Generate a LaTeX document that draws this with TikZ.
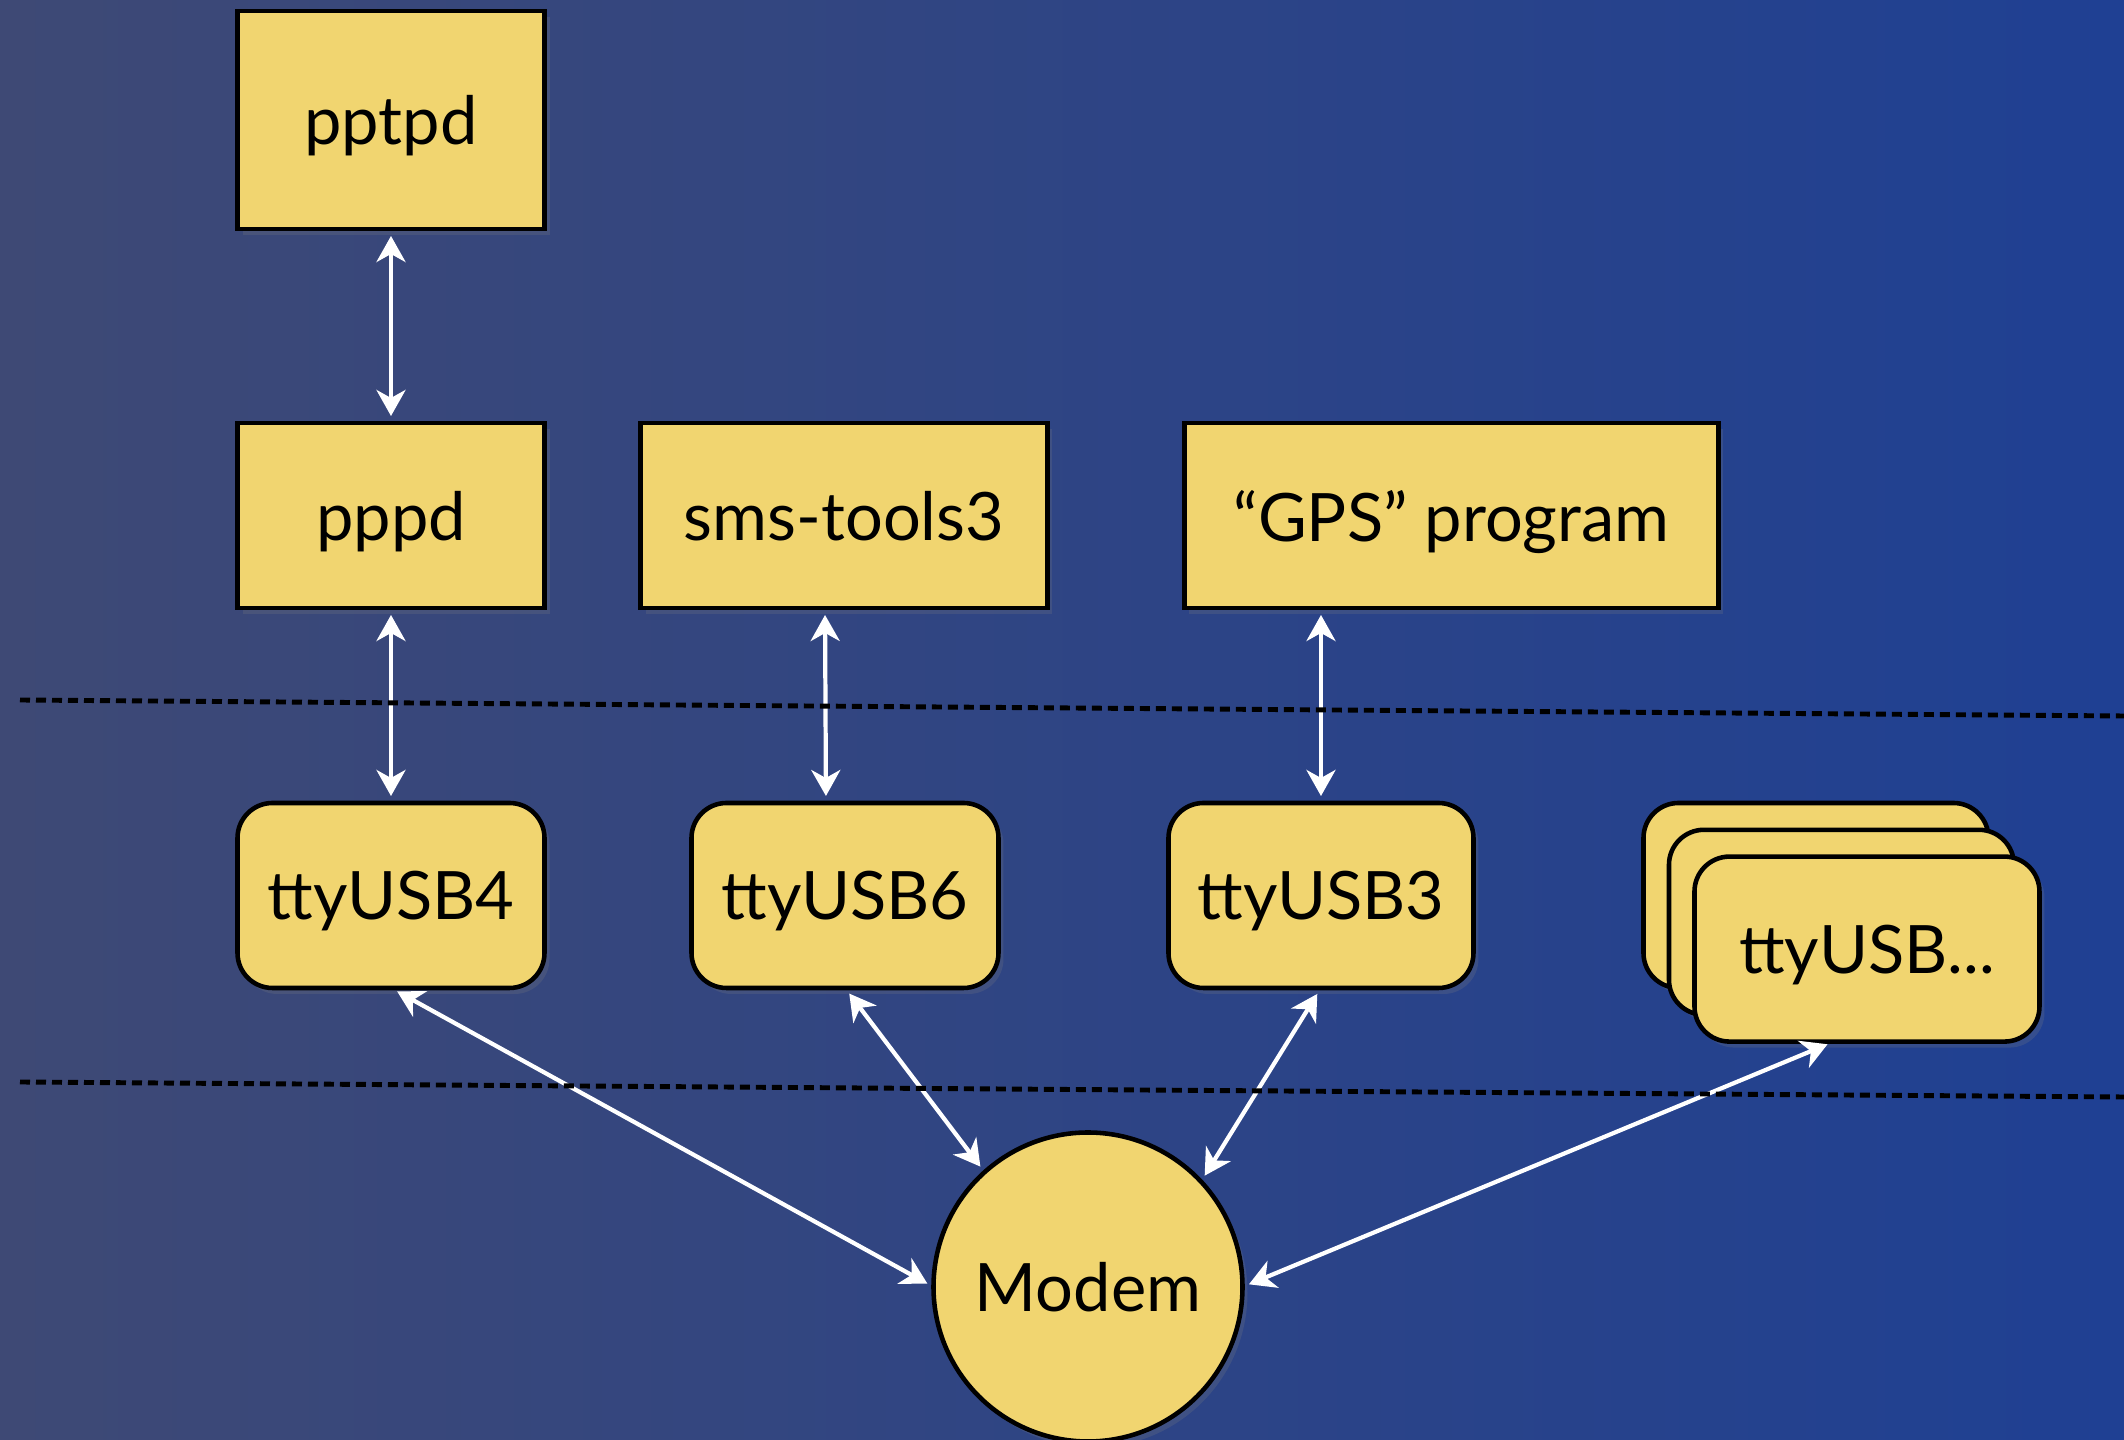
\documentclass[tikz,border=0pt]{standalone}
\usepackage{fontspec}
\setmainfont{Lato}
\usepackage{tikz}
\usetikzlibrary{shapes.geometric, arrows.meta, positioning, shadows}
\definecolor{paper}{RGB}{241,213,112}
\definecolor{bgleft}{RGB}{62,73,117}
\definecolor{bgright}{RGB}{31,64,147}
\tikzset{
    block/.style={rectangle, draw=black, line width=1.3pt, outer sep=0pt, fill=paper, text centered, text depth=0pt, minimum width=30.7mm, minimum height=18.5mm, font=\fontsize{19}{23}\selectfont, drop shadow={shadow xshift=0.5mm, shadow yshift=-0.6mm, opacity=0.22}},
    port/.style={block, rounded corners=3.5mm},
    modem/.style={block, circle, minimum size=30.9mm, inner sep=0pt},
    link/.style={white, line width=1.2pt, {Stealth[length=2.6mm, width=2.9mm, inset=0.8mm]}-{Stealth[length=2.6mm, width=2.9mm, inset=0.8mm]}, shorten <=0.7mm, shorten >=0.7mm},
    divider/.style={black, line width=1.4pt, dash pattern=on 1mm off 0.6mm}
}
\begin{document}
\begin{tikzpicture}[x=0.1mm, y=-0.1mm]
    % Background
    \shade [left color=bgleft, right color=bgright] (0,0) rectangle (2124,1440);
    \useasboundingbox (0,0) rectangle (2124,1440);
    % Programs
    \node (pptpd) [block, minimum height=21.8mm] at (391,120) {pptpd};
    \node (pppd) [block, below=19.4mm of pptpd] {pppd};
    \node (sms) [block, right=9.6mm of pppd, minimum width=40.7mm] {sms-tools3};
    \node (gps) [block, right=13.7mm of sms, minimum width=53.4mm] {“GPS” program};
    % Serial ports
    \node (usb4) [port, below=19.5mm of pppd] {ttyUSB4};
    \node (usb6) [port, right=14.7mm of usb4] {ttyUSB6};
    \node (usb3) [port, right=17mm of usb6, minimum width=30.5mm] {ttyUSB3};
    \node (usbback) [port, right=17mm of usb3, minimum width=34.5mm] {};
    \node (usbmid) [port, minimum width=34.5mm, xshift=2.55mm, yshift=-2.68mm] at (usbback) {};
    \node (usbx) [port, minimum width=34.5mm, xshift=2.55mm, yshift=-2.68mm] at (usbmid) {ttyUSB...};
    % Modem
    \node (modem) [modem] at (1088,1287) {Modem};
    % Arrows
    \draw [link] (pptpd) -- (pppd);
    \draw [link] (pppd) -- (usb4);
    \draw [link] ([xshift=-1.9mm]sms.south) -- ([xshift=-1.9mm]usb6.north);
    \draw [link] (gps.south -| usb3.north) -- (usb3.north);
    \draw [link] (usb4.south) -- (modem.west);
    \draw [link] (usb6.south) -- (modem.132);
    \draw [link] (usb3.south) -- (modem.43);
    \draw [link] ([xshift=-3.3mm]usbx.south) -- (modem.east);
    % Layers
    \draw [divider] (20,700) -- (2124,716);
    \draw [divider] (20,1082) -- (2124,1097);
\end{tikzpicture}
\end{document}
